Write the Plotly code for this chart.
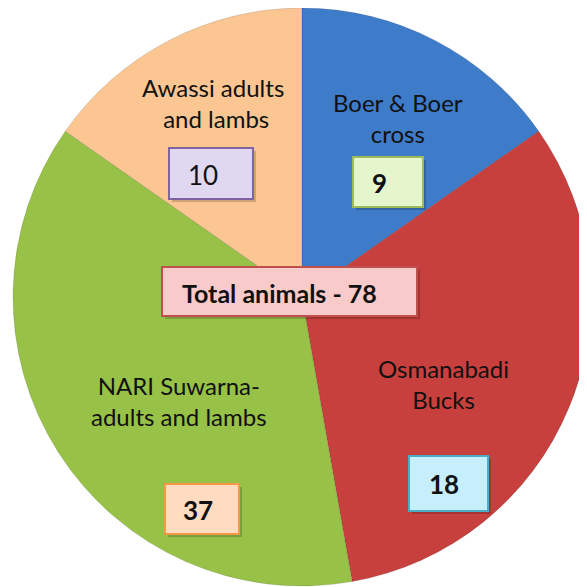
import plotly.graph_objects as go

# Data
categories = ["Boer & Boer cross", "Osmanabadi Bucks",
              "NARI Suwarna- adults and lambs", "Awassi adults and lambs"]
# Slice sizes (degrees of the pie)
slice_sizes = [55, 115, 135, 55]
# Count labels shown in the boxes
counts = [9, 18, 37, 10]
total_label = "Total animals - 78"

slice_colors = ["#3E7BC9", "#C7403D", "#98C148", "#FBC692"]

W = H = 587
OFF = 8  # page body margin offset

fig = go.Figure()
fig.add_trace(go.Pie(
    labels=categories,
    values=slice_sizes,
    sort=False,
    direction="clockwise",
    rotation=0,
    textinfo="none",
    hoverinfo="label",
    marker=dict(colors=slice_colors, line=dict(color="rgba(0,0,0,0.12)", width=1)),
    domain=dict(x=[5 / W, 583 / W], y=[1 - 578 / H, 1.0]),
    showlegend=False,
))

def px(x):
    return (x - OFF) / W

def py(y):
    return 1 - (y - OFF) / H

FONT = "Lato, 'Open Sans', sans-serif"

# label texts (category names)
label_specs = [
    ("Boer & Boer<br>cross", 398, 118),
    ("Osmanabadi<br>Bucks", 443, 384),
    ("NARI Suwarna-<br>adults and lambs", 179, 401),
    ("Awassi adults<br> and lambs", 213, 103),
]
annotations = []
for txt, x, y in label_specs:
    annotations.append(dict(
        text=txt, x=px(x), y=py(y), xref="paper", yref="paper",
        showarrow=False, xanchor="center", yanchor="middle",
        font=dict(family=FONT, size=24, color="#111111"),
        align="center",
    ))

# boxes: (x0, y0, x1, y1, fill, border, text_x, text_y, bold)
box_specs = [
    (353, 157, 423, 207, "#E6F6CC", "#9BBB59", 379, 183, True),
    (409, 456, 488, 511, "#C6EEFB", "#4BACC6", 444, 484, True),
    (165, 484, 239, 534, "#FDDCC0", "#F79646", 198, 510, True),
    (169, 148, 253, 199, "#E0D8F0", "#8064A2", 203, 175, False),
]
shapes = []
for i, (x0, y0, x1, y1, fill, border, tx, ty, bold) in enumerate(box_specs):
    # soft shadow
    shapes.append(dict(type="rect", xref="paper", yref="paper",
                       x0=px(x0 + 3), x1=px(x1 + 3), y0=py(y0 + 3), y1=py(y1 + 3),
                       fillcolor="rgba(0,0,0,0.18)", line=dict(width=0)))
    shapes.append(dict(type="rect", xref="paper", yref="paper",
                       x0=px(x0), x1=px(x1), y0=py(y0), y1=py(y1),
                       fillcolor=fill, line=dict(color=border, width=2)))
    t = str(counts[i])
    annotations.append(dict(
        text=f"<b>{t}</b>" if bold else t, x=px(tx), y=py(ty),
        xref="paper", yref="paper", showarrow=False,
        xanchor="center", yanchor="middle",
        font=dict(family=FONT, size=26, color="#111111"),
    ))

# total box
shapes.append(dict(type="rect", xref="paper", yref="paper",
                   x0=px(165), x1=px(420), y0=py(270), y1=py(319),
                   fillcolor="rgba(0,0,0,0.18)", line=dict(width=0)))
shapes.append(dict(type="rect", xref="paper", yref="paper",
                   x0=px(162), x1=px(417), y0=py(267), y1=py(316),
                   fillcolor="#F9CACA", line=dict(color="#C0504D", width=2)))
annotations.append(dict(
    text=f"<b>{total_label}</b>", x=px(279), y=py(293),
    xref="paper", yref="paper", showarrow=False,
    xanchor="center", yanchor="middle",
    font=dict(family=FONT, size=25, color="#111111"),
))

fig.update_layout(
    width=W, height=H,
    margin=dict(l=0, r=0, t=0, b=0),
    paper_bgcolor="white",
    plot_bgcolor="white",
    shapes=shapes,
    annotations=annotations,
)

fig.write_html("out.html")
